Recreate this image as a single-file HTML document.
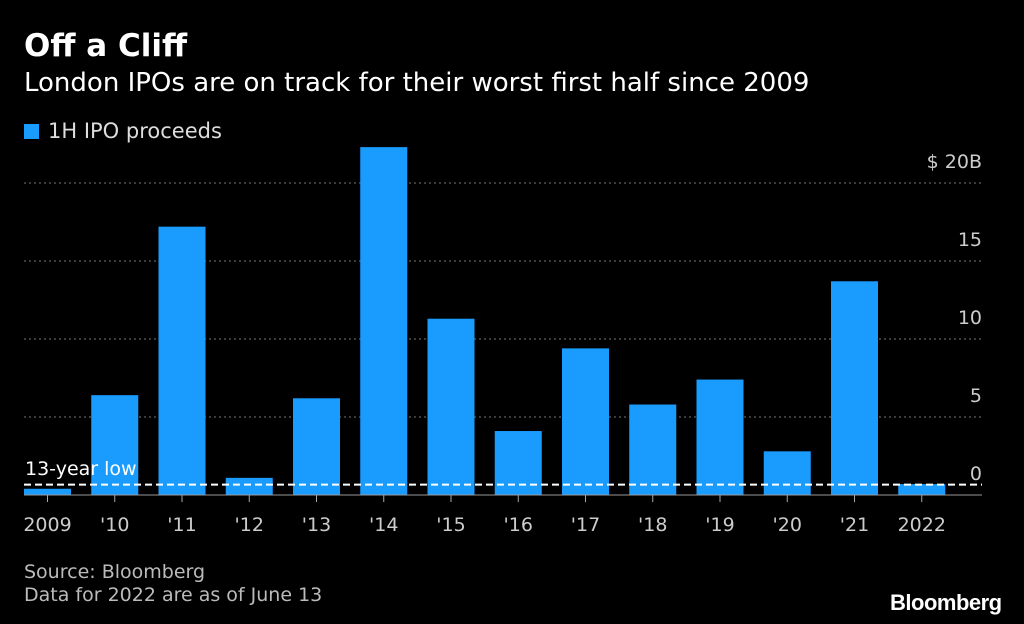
<!DOCTYPE html>
<html><head><meta charset="utf-8"><style>
body{margin:0;background:#000;width:1024px;height:624px;overflow:hidden;font-family:"DejaVu Sans","Liberation Sans",sans-serif;color:#fff}
.t{position:absolute;white-space:nowrap}
</style></head><body>
<div class="t" style="left:24px;top:28px;font-size:31px;font-weight:bold">Off a Cliff</div>
<div class="t" style="left:24px;top:68px;font-size:26px">London IPOs are on track for their worst first half since 2009</div>
<div class="t" style="left:24px;top:119px;font-size:21px;color:#ddd"><span style="display:inline-block;width:15px;height:15px;background:#1a9cff;margin-right:9px;vertical-align:-1px"></span>1H IPO proceeds</div>
<div class="t" style="left:24px;top:561px;font-size:19px;color:#bbb;line-height:23px">Source: Bloomberg<br>Data for 2022 are as of June 13</div>
<div class="t" style="left:890px;top:590px;font-size:22px;font-weight:bold;letter-spacing:-0.5px;font-family:'Liberation Sans',sans-serif">Bloomberg</div>
<svg id="c" width="1024" height="624" style="position:absolute;left:0;top:0"></svg>
<script>
const categories=["2009","'10","'11","'12","'13","'14","'15","'16","'17","'18","'19","'20","'21","2022"];
const values=[0.4,6.4,17.2,1.1,6.2,22.3,11.3,4.1,9.4,5.8,7.4,2.8,13.7,0.7];
const ticks=[0,5,10,15,20];
const tickLabels=["0","5","10","15","$ 20B"];
const lowValue=0.7;
const NS="http://www.w3.org/2000/svg",svg=document.getElementById('c');
const y=v=>495-v*15.6;
const x=i=>24+i*67.25;
const bw=47;
function mk(t,a){const e=document.createElementNS(NS,t);for(const k in a)e.setAttribute(k,a[k]);svg.appendChild(e);return e;}
ticks.forEach((t,i)=>{
 if(t>0){const l=mk('line',{x1:24,x2:982,y1:y(t),y2:y(t),stroke:'#777','stroke-dasharray':'2,3'});
 
 }
 const tx=mk('text',{x:982,y:y(t)-15,'text-anchor':'end',fill:'#ccc','font-size':19,'font-family':'DejaVu Sans, sans-serif'});
 tx.textContent=tickLabels[i];
 
 
});
values.forEach((v,i)=>{
 const r=mk('rect',{x:x(i),y:y(v),width:bw,height:495-y(v),fill:'#1a9cff'});
 
 
 const tk=mk('line',{x1:x(i)+bw/2,x2:x(i)+bw/2,y1:495,y2:502,stroke:'#aaa'});
 
 
 const tx=mk('text',{x:x(i)+bw/2,y:531,'text-anchor':'middle',fill:'#ccc','font-size':19,'font-family':'DejaVu Sans, sans-serif'});
 tx.textContent=categories[i];
 
 
});
const b=mk('line',{x1:24,x2:982,y1:495,y2:495,stroke:'#999'});


const d=mk('line',{x1:24,x2:982,y1:y(lowValue)+0.5,y2:y(lowValue)+0.5,stroke:'#fff','stroke-width':2,'stroke-dasharray':'7,4'});


const lt=mk('text',{x:25,y:y(lowValue)-9,fill:'#fff','font-size':19,'font-family':'DejaVu Sans, sans-serif'});
lt.textContent='13-year low';


</script>
</body></html>
